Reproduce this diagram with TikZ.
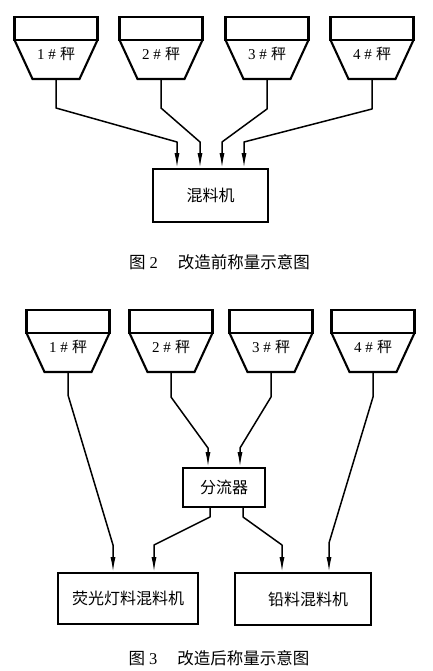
\documentclass[tikz,border=0pt]{standalone}
\usepackage{fontspec}
\setmainfont{Liberation Serif}
\newfontfamily\cjk{Noto Sans CJK SC}
\usetikzlibrary{arrows.meta}
\tikzset{
  hop/.style={line width=2.1pt, line join=miter},
  box/.style={draw, line width=1.7pt, inner sep=0pt},
  conn/.style={line width=1.5pt, line join=round, -{Latex[length=15pt,width=5pt]}},
  lbl/.style={inner sep=0pt, font=\fontsize{15}{17}\selectfont},
  captext/.style={inner sep=0pt, font=\fontsize{16.5}{18}\selectfont},
  boxtext/.style={font=\cjk\fontsize{16}{18}\selectfont},
}
% \hopperX{name}{center x}{top y}{number}
\newcommand\hopperX[4]{%
  \draw[hop] (#2-41.5,#3) rectangle (#2+41.5,#3+23);
  \draw[hop] (#2-41.5,#3+23) -- (#2-23.5,#3+62) -- (#2+23.5,#3+62) -- (#2+41.5,#3+23);
  \node[lbl] (#1) at (#2,#3+37) {#4\hspace{4pt}\#\hspace{4pt}{\cjk 秤}};
  \coordinate (#1-out) at (#2,#3+62);
}
\begin{document}
\begin{tikzpicture}[x=1pt,y=-1pt]
\useasboundingbox (0,0) rectangle (433,671);
% ---------- Figure 2 ----------
\hopperX{a1}{56}{17}{1}
\hopperX{a2}{161}{17}{2}
\hopperX{a3}{267}{17}{3}
\hopperX{a4}{372}{17}{4}
\node[box, boxtext, minimum width=115pt, minimum height=53pt] (mix) at (210.5,195.5) {混料机};
\draw[conn] (a1-out) -- (56,108) -- (177,142) -- (177,0 |- mix.north);
\draw[conn] (a2-out) -- (161,108) -- (200,142) -- (200,0 |- mix.north);
\draw[conn] (a3-out) -- (267,109) -- (222,142) -- (222,0 |- mix.north);
\draw[conn] (a4-out) -- (372,109) -- (244,142) -- (244,0 |- mix.north);
\node[captext] (cap2) at (219.5,262) {{\cjk 图}\hspace{4pt}2\hspace{20pt}{\cjk 改造前称量示意图}};
% ---------- Figure 3 ----------
\hopperX{b1}{68}{310}{1}
\hopperX{b2}{171}{310}{2}
\hopperX{b3}{271}{310}{3}
\hopperX{b4}{373}{310}{4}
\node[box, boxtext, minimum width=82pt, minimum height=39pt] (split) at (224,487.5) {分流器};
\node[box, boxtext, minimum width=140pt, minimum height=51pt] (mixL) at (128,598.5) {荧光灯料混料机};
\node[box, boxtext, minimum width=136pt, minimum height=52pt] (mixR) at (303,599) {\hspace{10pt}铅料混料机};
\draw[conn] (b1-out) -- (68,395) -- (113,545) -- (113,0 |- mixL.north);
\draw[conn] (b2-out) -- (171,397) -- (208,448) -- (208,0 |- split.north);
\draw[conn] (b3-out) -- (271,397) -- (240,448) -- (240,0 |- split.north);
\draw[conn] (b4-out) -- (373,397) -- (329,543) -- (329,0 |- mixR.north);
\draw[conn] (210,0 |- split.south) -- (210,517) -- (154,545) -- (154,0 |- mixL.north);
\draw[conn] (243,0 |- split.south) -- (243,517) -- (282,545) -- (282,0 |- mixR.north);
\node[captext] (cap3) at (219,658) {{\cjk 图}\hspace{4pt}3\hspace{20pt}{\cjk 改造后称量示意图}};
\end{tikzpicture}
\end{document}
